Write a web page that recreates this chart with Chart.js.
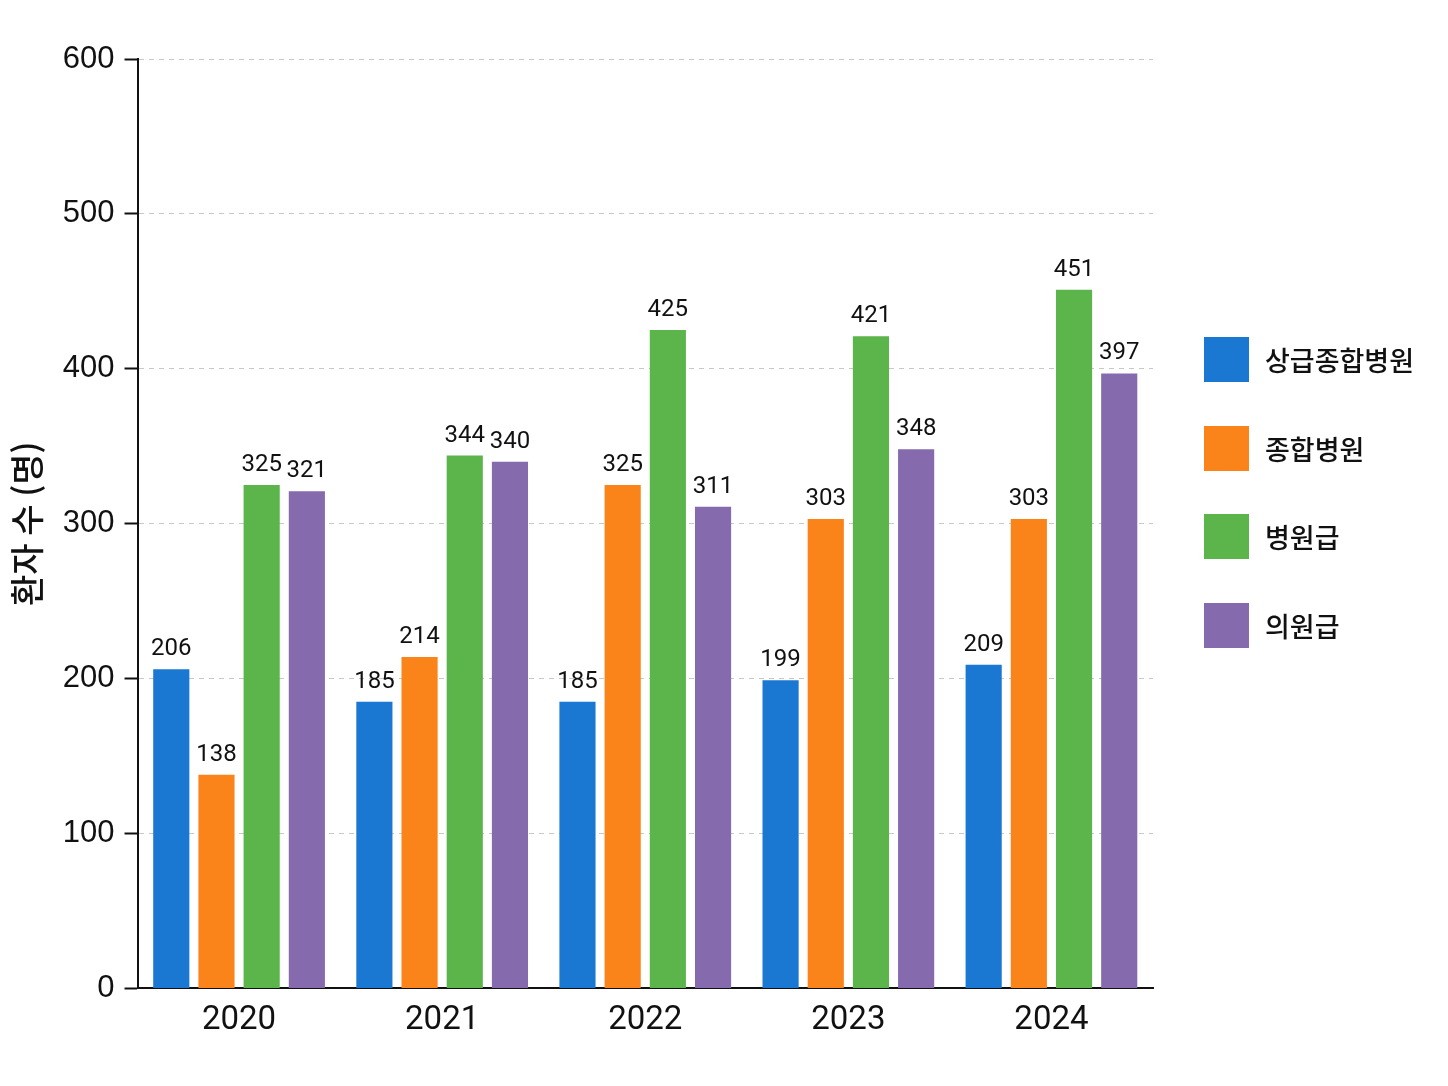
<!DOCTYPE html>
<html lang="ko">
<head>
<meta charset="utf-8">
<title>환자 수</title>
<script src="https://cdn.jsdelivr.net/npm/chart.js@4/dist/chart.umd.min.js"></script>
<style>
  html, body { margin: 0; padding: 0; background: #fff; }
  #wrap { position: relative; width: 1448px; height: 1086px; }
  #legend { position: absolute; left: 1204px; top: 337px; margin: 0; padding: 0; list-style: none; }
  #legend li { display: flex; align-items: center; height: 45px; margin-bottom: 43.5px;
    font-family: "Noto Sans CJK KR", "Noto Sans", sans-serif; font-size: 27px; font-weight: 500; color: #111; }
  #legend span { display: inline-block; width: 45px; height: 45px; margin-right: 16px; }
</style>
</head>
<body>
<div id="wrap">
  <canvas id="myChart" width="1448" height="1086"></canvas>
  <ul id="legend"></ul>
</div>
<script>
const years = ['2020', '2021', '2022', '2023', '2024'];
const seriesNames = ['상급종합병원', '종합병원', '병원급', '의원급'];
const tertiary = [206, 185, 185, 199, 209];
const general = [138, 214, 325, 303, 303];
const hospital = [325, 344, 425, 421, 451];
const clinic = [321, 340, 311, 348, 397];
const yTicks = [0, 100, 200, 300, 400, 500, 600];
const colors = ['#1a78d2', '#fa8419', '#5cb54a', '#856aae'];

const allValues = [tertiary, general, hospital, clinic];

// value labels above each bar
const barLabels = {
  id: 'barLabels',
  afterDatasetsDraw(chart) {
    const ctx = chart.ctx;
    ctx.save();
    ctx.font = '24px Roboto, "Noto Sans", sans-serif';
    ctx.fillStyle = '#111';
    ctx.textAlign = 'center';
    ctx.textBaseline = 'alphabetic';
    chart.data.datasets.forEach(function (ds, i) {
      chart.getDatasetMeta(i).data.forEach(function (bar, j) {
        ctx.fillText(ds.data[j], bar.x, bar.y - 14);
      });
    });
    ctx.restore();
  }
};

const ctx = document.getElementById('myChart').getContext('2d');
new Chart(ctx, {
  type: 'bar',
  data: {
    labels: years,
    datasets: seriesNames.map(function (name, i) {
      return {
        label: name,
        data: allValues[i],
        backgroundColor: colors[i],
        borderWidth: 0,
        categoryPercentage: 0.89,
        barPercentage: 0.8
      };
    })
  },
  options: {
    responsive: false,
    animation: false,
    layout: {
      padding: { left: 0, right: 295, top: 59, bottom: 32 }
    },
    scales: {
      x: {
        grid: { display: false, drawTicks: false },
        border: { display: true, color: '#111', width: 2 },
        ticks: {
          padding: 13,
          color: '#111',
          font: { family: 'Roboto, "Noto Sans", sans-serif', size: 33 }
        }
      },
      y: {
        min: 0,
        max: 600,
        afterBuildTicks: function (axis) {
          axis.ticks = yTicks.map(function (v) { return { value: v }; });
        },
        grid: {
          color: '#c8c8c8',
          lineWidth: 1,
          tickLength: 13,
          tickColor: '#111',
          tickWidth: 2,
          tickBorderDash: []
        },
        border: { display: true, color: '#111', width: 2, dash: [5, 5] },
        ticks: {
          padding: 10,
          color: '#111',
          font: { family: '"Liberation Sans", Arial, sans-serif', size: 31 }
        },
        title: {
          display: true,
          text: '환자 수 (명)',
          color: '#111',
          padding: { top: 7, bottom: 5 },
          font: { family: '"Noto Sans CJK KR", sans-serif', size: 34, weight: '500' }
        }
      }
    },
    plugins: {
      legend: { display: false },
      tooltip: { enabled: false }
    }
  },
  plugins: [barLabels]
});

// legend on the right
const legend = document.getElementById('legend');
seriesNames.forEach(function (name, i) {
  const li = document.createElement('li');
  li.innerHTML = '<span style="background:' + colors[i] + '"></span>' + name;
  legend.appendChild(li);
});
</script>
</body>
</html>
